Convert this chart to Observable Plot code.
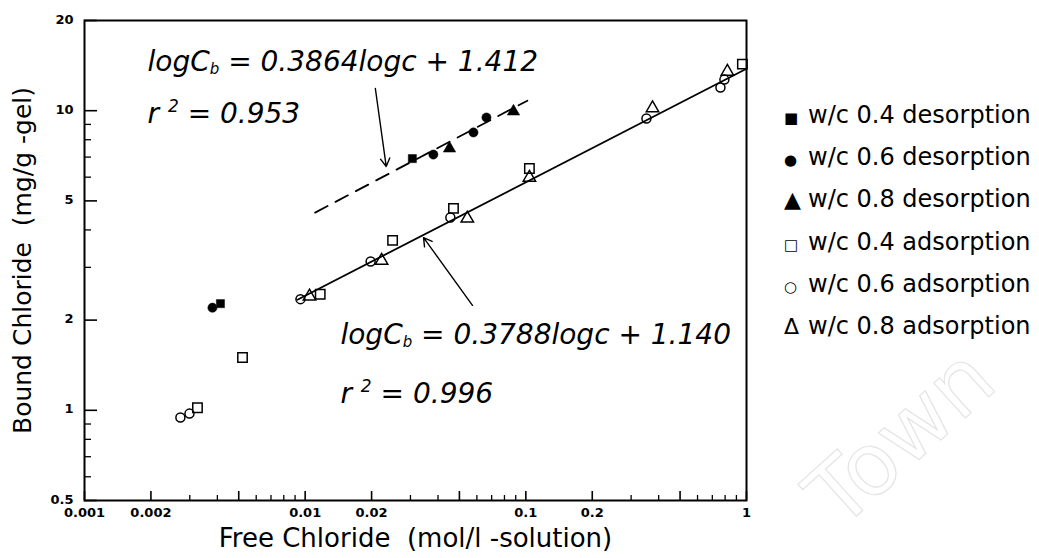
<!DOCTYPE html>
<html><head><meta charset="utf-8">
<script src="https://cdn.jsdelivr.net/npm/d3@7"></script>
<script src="https://cdn.jsdelivr.net/npm/@observablehq/plot@0.6"></script>
<style>
html,body{margin:0;padding:0;background:#fff;}
#wrap{position:relative;width:1039px;height:558px;overflow:hidden;background:#fff;}
#legend{position:absolute;left:784px;top:94px;font-family:"DejaVu Sans",sans-serif;font-size:24px;color:#000;}
#legend .row{height:42.2px;line-height:42.2px;white-space:nowrap;}
#legend .sym{display:inline-block;width:24px;text-align:left;}
#wm{position:absolute;left:850px;top:452px;height:90px;line-height:90px;font-family:"DejaVu Sans",sans-serif;font-size:86px;color:transparent;-webkit-text-stroke:1.2px #e4e4e4;transform:rotate(-42deg);transform-origin:0 100%;white-space:nowrap;pointer-events:none;}
</style></head>
<body><div id="wrap"><div id="legend"></div><div id="wm"></div></div>
<script>
// ---- data (x = free chloride mol/l, y = bound chloride mg/g-gel) ----
const desorp04 = [[0.00413, 2.27], [0.0306, 6.92]];
const desorp06 = [[0.0038, 2.20], [0.0381, 7.14], [0.0579, 8.46], [0.0663, 9.49]];
const desorp08 = [[0.0451, 7.48], [0.0879, 9.94]];
const adsorp04 = [[0.00325, 1.02], [0.0052, 1.50], [0.0117, 2.44], [0.0249, 3.69], [0.047, 4.72], [0.1038, 6.41], [0.958, 14.3]];
const adsorp06 = [[0.00272, 0.946], [0.00299, 0.975], [0.00952, 2.35], [0.0198, 3.14], [0.0455, 4.40], [0.352, 9.42], [0.762, 11.95], [0.794, 12.7]];
const adsorp08 = [[0.01046, 2.40], [0.0222, 3.16], [0.0543, 4.37], [0.1038, 5.98], [0.375, 10.2], [0.819, 13.5]];

const dashedFit = [[0.0111, 4.57], [0.1016, 10.8]];
const solidFit = [[0.00923, 2.34], [1, 13.8]];

const arrows = [
  {x1: 0.0208, y1: 11.86, x2: 0.0233, y2: 6.51},
  {x1: 0.0573, y1: 2.24, x2: 0.0344, y2: 3.77}
];

const eqTexts = ["logCb = 0.3864logc + 1.412", "r2 = 0.953", "logCb = 0.3788logc + 1.140", "r2 = 0.996"];
const eqX = [0.00193, 0.00193, 0.01445, 0.01445];
const eqY = [13.6, 9.13, 1.67, 1.054];

const xTicks = [0.001, 0.002, 0.005, 0.01, 0.02, 0.05, 0.1, 0.2, 0.5, 1];
const xTickLabels = ["0.001", "0.002", "0.005", "0.01", "0.02", "0.05", "0.1", "0.2", "0.5", "1"];
const xMinor = [0.003, 0.004, 0.006, 0.007, 0.008, 0.009, 0.03, 0.04, 0.06, 0.07, 0.08, 0.09, 0.3, 0.4, 0.6, 0.7, 0.8, 0.9];
const yTicks = [0.5, 1, 2, 5, 10, 20];
const yTickLabels = ["0.5", "1", "2", "5", "10", "20"];
const yMinor = [0.6, 0.7, 0.8, 0.9, 3, 4, 6, 7, 8, 9];

const xTitle = "Free Chloride  (mol/l -solution)";
const yTitle = "Bound Chloride  (mg/g -gel)";

const legendSymbols = ["■", "●", "▲", "□", "○", "Δ"];
const legendLabels = ["w/c 0.4 desorption", "w/c 0.6 desorption", "w/c 0.8 desorption", "w/c 0.4 adsorption", "w/c 0.6 adsorption", "w/c 0.8 adsorption"];
const watermark = "Town";

// ---- layout ----
const W = 1039, H = 558, ML = 84, MR = 293, MT = 20, MB = 58;
const FW = W - ML - MR, FH = H - MT - MB;

const xLab = new Map(xTicks.map((d, i) => [d, xTickLabels[i]]));
const yLab = new Map(yTicks.map((d, i) => [d, yTickLabels[i]]));
const eqData = eqTexts.map((t, i) => ({t, x: eqX[i], y: eqY[i]}));

const dots = (arr, symbol, filled, r) => Plot.dot(arr, {
  x: d => d[0], y: d => d[1], symbol, r,
  fill: filled ? "black" : "none",
  stroke: "black", strokeWidth: filled ? 0.5 : 1.5
});

const chart = Plot.plot({
  width: W, height: H,
  marginLeft: ML, marginRight: MR, marginTop: MT, marginBottom: MB,
  style: {background: "transparent", color: "black", fontFamily: "'DejaVu Sans', sans-serif"},
  x: {type: "log", domain: [0.001, 1]},
  y: {type: "log", domain: [0.5, 20]},
  marks: [
    Plot.tickX(xMinor, {x: d => d, insetTop: FH - 5, strokeWidth: 1.3}),
    Plot.tickX(xTicks, {x: d => d, insetTop: FH - 9, strokeWidth: 1.6}),
    Plot.tickY(yMinor, {y: d => d, insetRight: FW - 7, strokeWidth: 1.3}),
    Plot.tickY(yTicks, {y: d => d, insetRight: FW - 13, strokeWidth: 1.6}),
    Plot.axisX({ticks: xTicks, tickFormat: d => xLab.get(d), tickSize: 0, tickPadding: 7, fontSize: 13, fontWeight: "bold", label: null}),
    Plot.axisY({ticks: yTicks, tickFormat: d => yLab.get(d), tickSize: 0, tickPadding: 11, fontSize: 13, fontWeight: "bold", label: null, dy: -1}),
    Plot.text([xTitle], {text: d => d, frameAnchor: "bottom", textAnchor: "middle", dy: 46, fontSize: 26}),
    Plot.text([yTitle], {text: d => d, frameAnchor: "left", textAnchor: "middle", lineAnchor: "middle", dx: -62, rotate: -90, fontSize: 25}),
    Plot.line(solidFit, {x: d => d[0], y: d => d[1], strokeWidth: 1.8}),
    Plot.line(dashedFit, {x: d => d[0], y: d => d[1], strokeWidth: 1.8, strokeDasharray: "14,9"}),
    Plot.arrow(arrows, {x1: "x1", y1: "y1", x2: "x2", y2: "y2", strokeWidth: 1.4, headLength: 10, bend: 0}),
    dots(adsorp04, "square", false, 5.3),
    dots(adsorp06, "circle", false, 4.5),
    dots(adsorp08, "triangle", false, 4.6),
    dots(desorp04, "square", true, 4.6),
    dots(desorp06, "circle", true, 4.6),
    dots(desorp08, "triangle", true, 4.6),
    Plot.text(eqData, {x: "x", y: "y", text: "t", textAnchor: "start", lineAnchor: "bottom", fontSize: 28, fontStyle: "italic"}),
    Plot.frame({stroke: "black", strokeWidth: 2})
  ]
});

// subscripts / superscripts in the equation labels
d3.select(chart).selectAll("text").each(function () {
  const t = this.textContent;
  const s = d3.select(this);
  if (t.startsWith("logCb")) {
    const rest = t.slice(5);
    this.textContent = "";
    s.append("tspan").text("logC");
    s.append("tspan").attr("font-size", "15").attr("dy", "3").text("b");
    s.append("tspan").attr("dy", "-3").text(rest);
  } else if (t.startsWith("r2 ")) {
    const rest = t.slice(2);
    this.textContent = "";
    s.append("tspan").text("r ");
    s.append("tspan").attr("font-size", "17").attr("dy", "-11").text("2");
    s.append("tspan").attr("dy", "11").text(rest);
  }
});

const wrap = document.getElementById("wrap");
wrap.insertBefore(chart, wrap.firstChild);

const legend = d3.select("#legend");
legendLabels.forEach((lab, i) => {
  const row = legend.append("div").attr("class", "row");
  const sz = (i === 2 || i === 5) ? "22px" : "15px";
  row.append("span").attr("class", "sym").style("font-size", sz).text(legendSymbols[i]);
  row.append("span").text(lab);
});
document.getElementById("wm").textContent = watermark;
</script></body></html>
